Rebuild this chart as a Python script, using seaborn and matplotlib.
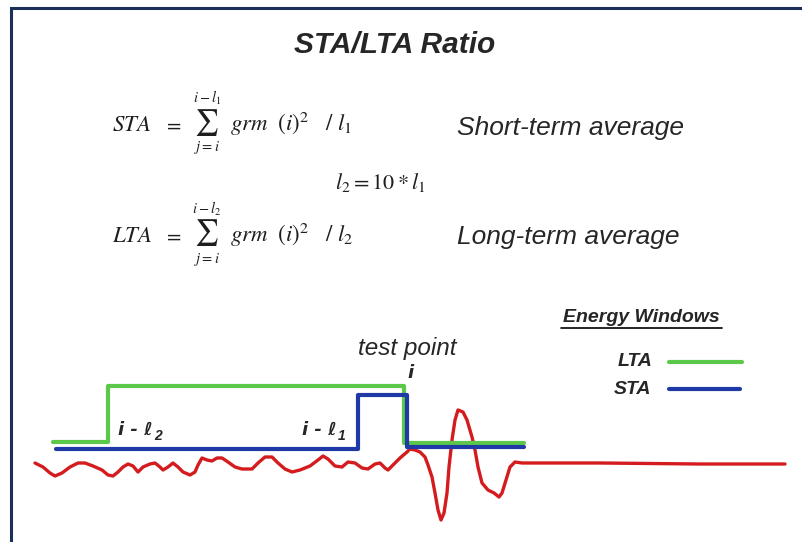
"""
STA/LTA ratio diagram: energy windows over a seismic trace.
"""
import matplotlib
matplotlib.use('Agg')
import matplotlib.pyplot as plt
import seaborn as sns

# trace samples (x = sample position, y = amplitude in screen units, down = +)
wave_x = [35, 43, 50, 55, 62, 70, 78, 85, 93, 102, 108, 113, 118, 123, 128,
          133, 138, 143, 150, 155, 160, 163, 168, 173, 178, 183, 190, 195,
          198, 202, 207, 212, 217, 222, 228, 235, 242, 252, 258, 265, 272,
          278, 285, 292, 300, 310, 318, 323, 328, 335, 342, 348, 355, 362,
          368, 375, 380, 385, 388, 393, 400, 407, 410, 415, 420, 425, 428,
          432, 435, 438, 441, 444, 447, 449, 452, 455, 458, 463, 467, 472,
          475, 478, 482, 488, 494, 499, 502, 506, 510, 515, 522, 532, 600,
          700, 785]
wave_y = [463, 467, 473, 476, 473, 467, 463, 463, 466, 470, 475, 476, 472,
          467, 464, 466, 472, 467, 464, 463, 467, 470, 467, 463, 467, 472,
          475, 472, 465, 458, 460, 461, 458, 458, 462, 467, 469, 469, 463,
          457, 457, 463, 469, 472, 470, 466, 460, 456, 459, 466, 467, 462,
          463, 468, 469, 464, 463, 468, 470, 465, 458, 452, 449, 450, 452,
          457, 465, 477, 493, 510, 520, 513, 493, 467, 440, 420, 410, 412,
          420, 437, 450, 467, 483, 490, 493, 497, 493, 480, 467, 462, 463,
          463, 463, 464, 464]

# energy windows (step outlines)
lta_x = [53, 108, 108, 404, 404, 524]
lta_y = [442, 442, 385.5, 385.5, 442.5, 442.5]
sta_x = [56, 358, 358, 407, 407, 524]
sta_y = [449, 449, 395, 395, 447, 447]

GREEN = '#5cc84a'
BLUE = '#1f3aa6'
RED = '#d41c1f'
FRAME = '#1c2f5a'
INK = '#1e1e1e'

sns.set_theme(style='white')
plt.rcParams['font.family'] = ['Liberation Sans', 'DejaVu Sans']
plt.rcParams['mathtext.fontset'] = 'stix'

fig = plt.figure(figsize=(8.02, 5.42), dpi=100)
ax = fig.add_axes([0, 0, 1, 1])
ax.set_xlim(0, 802)
ax.set_ylim(542, 0)
ax.axis('off')

# frame
ax.plot([11, 11, 803], [543, 8, 8], color=FRAME, lw=2.2, solid_joinstyle='miter')

# title
ax.text(395, 45, 'STA/LTA Ratio', fontsize=21.5, fontweight='bold',
        fontstyle='italic', ha='center', va='center')


def formula(name, sub, base):
    """One sum line: name = sum_{j=i}^{i-l_sub} grm(i)^2 / l_sub."""
    ax.text(112, base, r'$%s$' % name, fontsize=16.5, va='baseline', color=INK)
    ax.text(163, base, r'$=$', fontsize=15, va='baseline', color=INK)
    ax.text(206, base - 9, r'$\sum$', fontsize=19, ha='center',
            va='center', color=INK)
    ax.text(207, base - 33, r'$i-l_%s$' % sub, fontsize=10.5, ha='center',
            va='center', color=INK)
    ax.text(207, base + 17, r'$j=i$', fontsize=10.5, ha='center',
            va='center', color=INK)
    ax.text(230, base, r'$grm\ \ (i)^2\ \ \ /\ l_%s$' % sub, fontsize=16.5,
            va='baseline', color=INK)


formula('STA', '1', 131)
formula('LTA', '2', 242)
ax.text(335, 182, r'$l_2 = 10 * l_1$', fontsize=16, va='center', color=INK)

ax.text(457, 128, 'Short-term average', fontsize=19, fontstyle='italic', va='center')
ax.text(457, 237, 'Long-term average', fontsize=19, fontstyle='italic', va='center')

# trace and windows
sns.lineplot(x=wave_x, y=wave_y, sort=False, estimator=None, color=RED,
             lw=2.4, ax=ax).lines[-1].set_solid_joinstyle('round')
sns.lineplot(x=lta_x, y=lta_y, sort=False, estimator=None, color=GREEN,
             lw=3, ax=ax)
sns.lineplot(x=sta_x, y=sta_y, sort=False, estimator=None, color=BLUE,
             lw=3, ax=ax)

# window labels
lab = dict(fontsize=13, fontweight='bold', fontstyle='italic', va='center',
           family=['DejaVu Sans'])
ax.text(118, 430, 'i - ℓ', **lab)
ax.text(154, 436, '2', fontsize=10, fontweight='bold', fontstyle='italic',
        va='center')
ax.text(302, 430, 'i - ℓ', **lab)
ax.text(338, 436, '1', fontsize=10, fontweight='bold', fontstyle='italic',
        va='center')

ax.text(407, 348, 'test point', fontsize=17.5, fontstyle='italic',
        ha='center', va='center')
ax.text(411, 373, 'i', fontsize=13, fontweight='bold', fontstyle='italic',
        ha='center', va='center', family=['DejaVu Sans'])

# legend
ax.text(641, 318, 'Energy Windows', fontsize=14, fontweight='bold',
        fontstyle='italic', ha='center', va='center')
ax.plot([561, 722], [328, 328], color='black', lw=1.2)
ax.text(653, 362, 'LTA', fontsize=14, fontweight='bold', fontstyle='italic',
        ha='right', va='center')
ax.plot([669, 742], [362, 362], color=GREEN, lw=3)
ax.text(651, 390, 'STA', fontsize=14, fontweight='bold', fontstyle='italic',
        ha='right', va='center')
ax.plot([669, 740], [389, 389], color=BLUE, lw=3)

fig.savefig('out.png', dpi=100, facecolor='white')
